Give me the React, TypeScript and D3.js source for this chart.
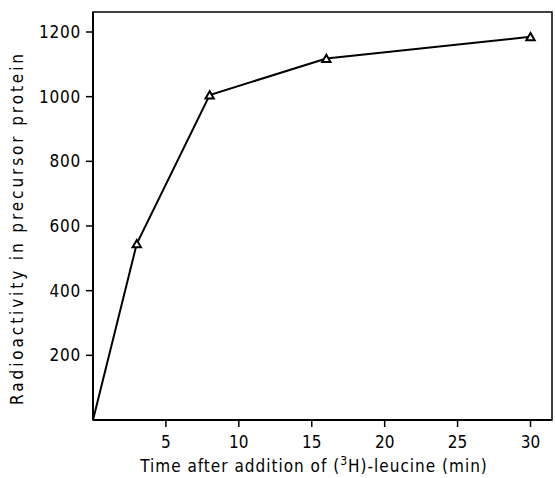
import React from "react";
import * as d3 from "d3";

const times = [0, 3, 8, 16, 30];
const activity = [0, 545, 1005, 1118, 1185];
const xTicks = [5, 10, 15, 20, 25, 30];
const yTicks = [200, 400, 600, 800, 1000, 1200];

const W = 555, H = 478;
const left = 93, right = 552, top = 12, bottom = 420;
const FONT = "'DejaVu Sans Condensed', 'DejaVu Sans', sans-serif";

export default function App() {
  const x = d3.scaleLinear().domain([0, 30]).range([left, 530.5]);
  const y = d3.scaleLinear().domain([0, 1200]).range([bottom, 32]);
  const line = d3.line<number>().x((_, i) => x(times[i])).y((d) => y(d));
  const tri = d3.symbol().type(d3.symbolTriangle).size(30)();

  return (
    <svg width={W} height={H} style={{ position: "absolute", left: 0, top: 0, background: "#fff" }}>
      <rect x={left} y={top} width={right - left} height={bottom - top} fill="none" stroke="#000" strokeWidth={1.5} />
      <line x1={left} x2={left} y1={top} y2={bottom} stroke="#000" strokeWidth={2} />
      <line x1={left} x2={right} y1={bottom} y2={bottom} stroke="#000" strokeWidth={2} />
      {yTicks.map((t) => (
        <g key={"y" + t}>
          <line x1={left - 7} x2={left} y1={y(t)} y2={y(t)} stroke="#000" strokeWidth={1.5} />
          <text x={left - 12} y={y(t)} dy="0.36em" textAnchor="end" fontFamily={FONT} fontSize={17} letterSpacing={0.8} fill="#000">
            {t}
          </text>
        </g>
      ))}
      {xTicks.map((t) => (
        <g key={"x" + t}>
          <line x1={x(t)} x2={x(t)} y1={bottom} y2={bottom + 7} stroke="#000" strokeWidth={1.5} />
          <text x={x(t)} y={bottom + 28} textAnchor="middle" fontFamily={FONT} fontSize={17} fill="#000">
            {t}
          </text>
        </g>
      ))}
      <path d={line(activity) || ""} fill="none" stroke="#000" strokeWidth={2} />
      {activity.slice(1).map((v, i) => (
        <path
          key={"p" + i}
          d={tri || ""}
          transform={`translate(${x(times[i + 1])},${y(v) + 1})`}
          fill="#fff"
          stroke="#000"
          strokeWidth={2}
        />
      ))}
      <text x={314} y={472} textAnchor="middle" fontFamily={FONT} fontSize={17} fill="#000" letterSpacing={1}>
        Time after addition of (<tspan dy={-7} fontSize={12}>3</tspan>
        <tspan dy={7}>H)-leucine (min)</tspan>
      </text>
      <text
        transform={`translate(23,228) rotate(-90)`}
        textAnchor="middle"
        fontFamily={FONT}
        fontSize={17}
        fill="#000"
        letterSpacing={2.9}
      >
        Radioactivity in precursor protein
      </text>
    </svg>
  );
}
